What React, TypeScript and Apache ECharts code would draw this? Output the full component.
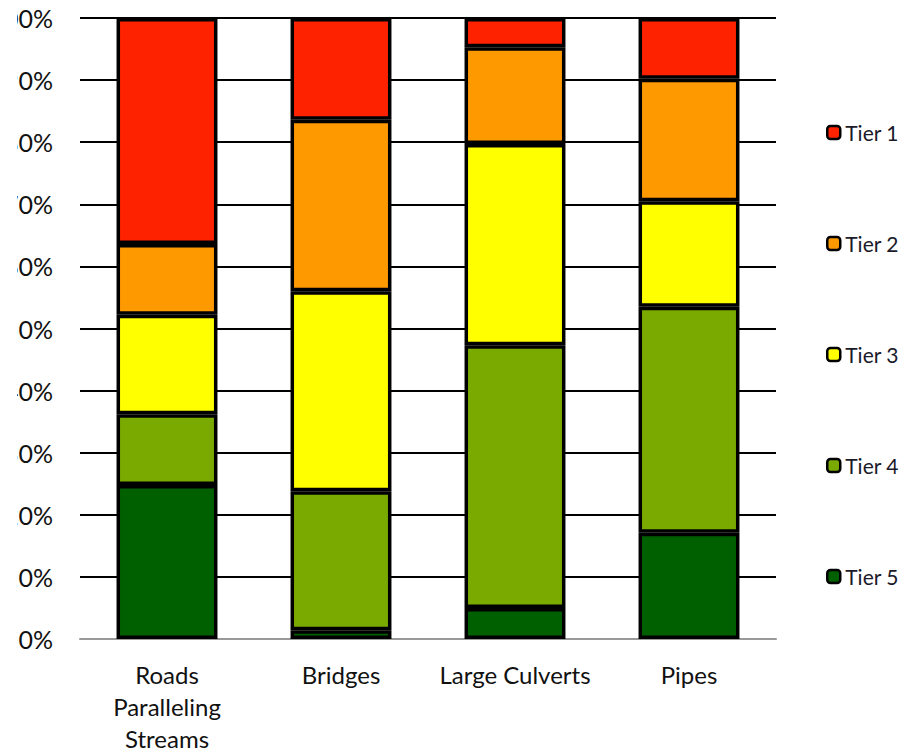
import React, { useEffect, useRef } from "react";
import * as echarts from "echarts";

const categories = ["Roads\nParalleling\nStreams", "Bridges", "Large Culverts", "Pipes"];
const tierNames = ["Tier 1", "Tier 2", "Tier 3", "Tier 4", "Tier 5"];
const tier1 = [36.4, 16.4, 4.7, 9.8];
const tier2 = [11.4, 27.6, 15.6, 19.7];
const tier3 = [16.0, 32.2, 32.4, 17.0];
const tier4 = [11.4, 22.4, 42.3, 36.4];
const tier5 = [24.8, 1.4, 5.0, 17.1];
const tierColors = ["#FF2200", "#FF9900", "#FFFF00", "#7AAA00", "#006000"];

export default function App() {
  const ref = useRef<HTMLDivElement>(null);
  useEffect(() => {
    if (!ref.current) return;
    const chart = echarts.init(ref.current, null, { renderer: "svg" });
    const data = [tier1, tier2, tier3, tier4, tier5];
    const series = [4, 3, 2, 1, 0].map((i) => ({
      name: tierNames[i],
      type: "bar",
      stack: "total",
      barWidth: "58%",
      data: data[i],
      itemStyle: { color: tierColors[i], borderColor: "#000", borderWidth: 3.5 },
    }));
    chart.setOption({
      animation: false,
      backgroundColor: "#fff",
      grid: { left: 80, right: 132, top: 18, bottom: 112, containLabel: false, outerBoundsMode: "none" },
      legend: {
        orient: "vertical",
        left: 821,
        top: 117,
        itemGap: 90,
        itemWidth: 13,
        itemHeight: 13,
        data: tierNames.map((n, i) => ({
          name: n,
          itemStyle: { color: tierColors[i], borderColor: "#000", borderWidth: 2.5 },
        })),
        textStyle: { fontFamily: "Lato", fontSize: 21, color: "#1a1a2a" },
      },
      xAxis: {
        type: "category",
        data: categories,
        axisLine: { lineStyle: { color: "#999", width: 2 } },
        axisTick: { show: false },
        axisLabel: {
          interval: 0,
          margin: 19,
          fontFamily: "Lato",
          fontSize: 24,
          lineHeight: 32,
          color: "#111",
        },
      },
      yAxis: {
        type: "value",
        min: 0,
        max: 100,
        interval: 10,
        axisLine: { show: false },
        axisTick: { show: false },
        splitLine: { lineStyle: { color: "#000", width: 2 } },
        axisLabel: {
          formatter: "{value}%",
          margin: 27,
          fontFamily: "Lato",
          fontSize: 25,
          color: "#111",
        },
      },
      series,
    });
    return () => chart.dispose();
  }, []);
  return (
    <div style={{ position: "fixed", left: 0, top: 0, width: 908, height: 751, overflow: "hidden", background: "#fff" }}>
      <div style={{ position: "absolute", left: 17, top: 0, width: 891, height: 751, overflow: "hidden" }}>
        <div ref={ref} style={{ position: "absolute", left: -17, top: 0, width: 908, height: 751 }} />
      </div>
    </div>
  );
}
